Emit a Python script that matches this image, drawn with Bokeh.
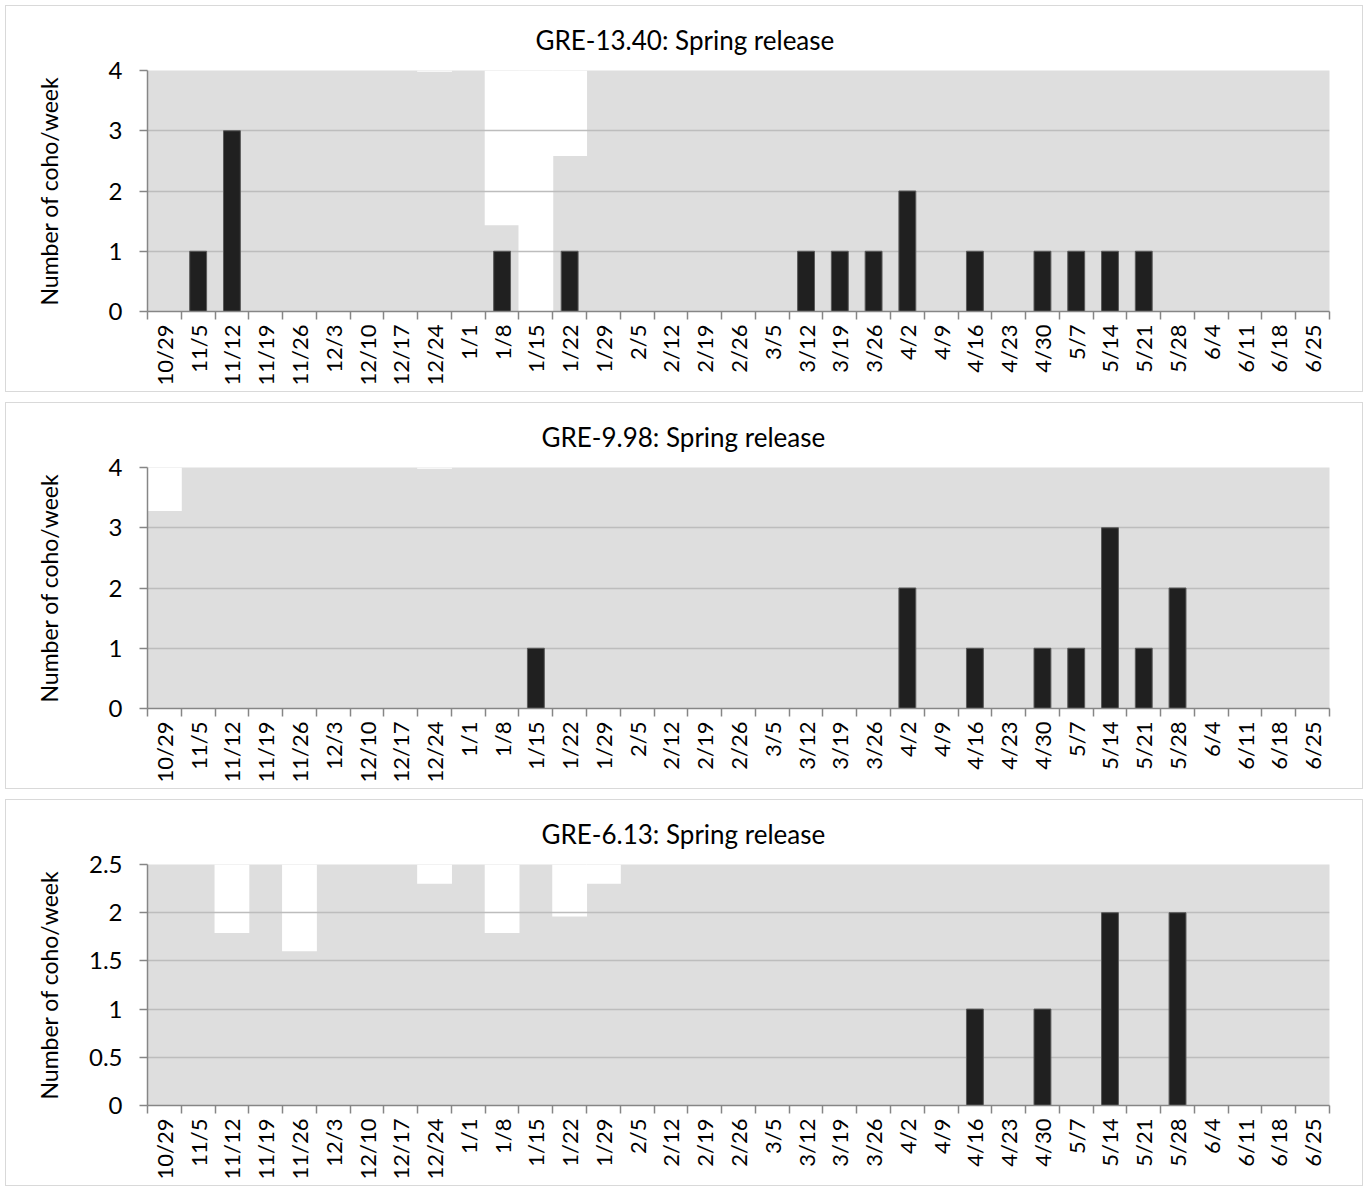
from bokeh.plotting import figure
from bokeh.layouts import column
from bokeh.models import Range1d, FixedTicker, ColumnDataSource
from bokeh.embed import file_html
from bokeh.resources import INLINE

# ---------------- data ----------------
weeks = ["10/29", "11/5", "11/12", "11/19", "11/26", "12/3", "12/10", "12/17",
         "12/24", "1/1", "1/8", "1/15", "1/22", "1/29", "2/5", "2/12", "2/19",
         "2/26", "3/5", "3/12", "3/19", "3/26", "4/2", "4/9", "4/16", "4/23",
         "4/30", "5/7", "5/14", "5/21", "5/28", "6/4", "6/11", "6/18", "6/25"]

titles = ["GRE-13.40: Spring release", "GRE-9.98: Spring release",
          "GRE-6.13: Spring release"]

# number of coho per week
coho_gre1340 = [0, 1, 3, 0, 0, 0, 0, 0, 0, 0, 1, 0, 1, 0, 0, 0, 0, 0, 0, 1,
                1, 1, 2, 0, 1, 0, 1, 1, 1, 1, 0, 0, 0, 0, 0]
coho_gre998 = [0, 0, 0, 0, 0, 0, 0, 0, 0, 0, 0, 1, 0, 0, 0, 0, 0, 0, 0, 0,
               0, 0, 2, 0, 1, 0, 1, 1, 3, 1, 2, 0, 0, 0, 0]
coho_gre613 = [0, 0, 0, 0, 0, 0, 0, 0, 0, 0, 0, 0, 0, 0, 0, 0, 0, 0, 0, 0,
               0, 0, 0, 0, 1, 0, 1, 0, 2, 0, 2, 0, 0, 0, 0]

# level down to which the week is shown as unsampled (white), None = sampled
unsampled_gre1340 = [None, None, None, None, None, None, None, None, 3.98, None,
                     1.43, 0.0, 2.58, None, None, None, None, None, None, None,
                     None, None, None, None, None, None, None, None, None, None,
                     None, None, None, None, None]
unsampled_gre998 = [3.28, None, None, None, None, None, None, None, 3.98, None,
                    None, None, None, None, None, None, None, None, None, None,
                    None, None, None, None, None, None, None, None, None, None,
                    None, None, None, None, None]
unsampled_gre613 = [None, None, 1.79, None, 1.60, None, None, None, 2.30, None,
                    1.79, None, 1.96, 2.30, None, None, None, None, None, None,
                    None, None, None, None, None, None, None, None, None, None,
                    None, None, None, None, None]

y_max = [4, 4, 2.5]
y_ticks = [[0, 1, 2, 3, 4], [0, 1, 2, 3, 4], [0, 0.5, 1, 1.5, 2, 2.5]]

counts = [coho_gre1340, coho_gre998, coho_gre613]
unsampled = [unsampled_gre1340, unsampled_gre998, unsampled_gre613]

# ---------------- styling ----------------
FONT = "Lato"
AXIS_GREY = "#868686"
label_standoff = [43, 43, 23]
title_offset = [388, 394, 394]

n = len(weeks)
centers = [i + 0.5 for i in range(n)]


def make_panel(k):
    ymax = y_max[k]
    p = figure(width=1358, height=387, output_backend="svg",
               toolbar_location=None,
               x_range=Range1d(0, n), y_range=Range1d(0, ymax),
               min_border_left=141, min_border_right=35,
               min_border_top=64, min_border_bottom=82)
    p.styles = {"border": "1px solid #d9d9d9"}
    p.background_fill_color = "#dedede"
    p.border_fill_color = "white"
    p.outline_line_color = None

    # unsampled (white) weeks
    ux = [centers[i] for i in range(n) if unsampled[k][i] is not None]
    ub = [unsampled[k][i] for i in range(n) if unsampled[k][i] is not None]
    usrc = ColumnDataSource(dict(x=ux, bottom=ub, top=[ymax] * len(ux)))
    p.vbar(x="x", bottom="bottom", top="top", width=1.03, source=usrc,
           fill_color="white", line_color=None, level="underlay")

    # coho counts
    cx = [centers[i] for i in range(n) if counts[k][i] > 0]
    cy = [counts[k][i] for i in range(n) if counts[k][i] > 0]
    csrc = ColumnDataSource(dict(x=cx, top=cy))
    p.vbar(x="x", top="top", bottom=0, width=0.5, source=csrc,
           fill_color="#202020", line_color="#5a5a5a", line_width=1)

    # title
    p.title.text = titles[k]
    p.title.text_font = FONT
    p.title.text_font_size = "26px"
    p.title.text_font_style = "normal"
    p.title.text_color = "black"
    p.title.align = "left"
    p.title.offset = title_offset[k]
    p.title.standoff = 30

    # grid
    p.xgrid.visible = False
    p.ygrid.grid_line_color = "#bdbdbd"
    p.ygrid.grid_line_width = 1.5
    p.ygrid.ticker = FixedTicker(ticks=y_ticks[k])

    # x axis
    xa = p.xaxis[0]
    xa.ticker = FixedTicker(ticks=centers, minor_ticks=list(range(n + 1)))
    xa.major_label_overrides = {c: w for c, w in zip(centers, weeks)}
    xa.major_label_orientation = 1.5708
    xa.major_tick_line_color = None
    xa.major_tick_out = 0
    xa.major_tick_in = 0
    xa.minor_tick_line_color = AXIS_GREY
    xa.minor_tick_out = 8
    xa.minor_tick_in = 0
    xa.minor_tick_line_width = 1.5
    xa.axis_line_color = AXIS_GREY
    xa.axis_line_width = 1.5
    xa.major_label_standoff = 5
    xa.major_label_text_font = FONT
    xa.major_label_text_font_size = "22px"
    xa.major_label_text_color = "black"

    # y axis
    ya = p.yaxis[0]
    ya.ticker = FixedTicker(ticks=y_ticks[k])
    ya.major_label_overrides = {t: f"{t:g}" for t in y_ticks[k]}
    ya.axis_line_color = AXIS_GREY
    ya.axis_line_width = 1.5
    ya.major_tick_line_color = AXIS_GREY
    ya.major_tick_line_width = 1.5
    ya.major_tick_out = 8
    ya.major_tick_in = 0
    ya.minor_tick_line_color = None
    ya.major_label_standoff = 17
    ya.major_label_text_font = FONT
    ya.major_label_text_font_size = "24px"
    ya.major_label_text_color = "black"
    ya.axis_label = "Number of coho/week"
    ya.axis_label_text_font = FONT
    ya.axis_label_text_font_size = "23px"
    ya.axis_label_text_font_style = "normal"
    ya.axis_label_text_color = "black"
    ya.axis_label_standoff = label_standoff[k]
    return p


layout = column(*[make_panel(k) for k in range(3)], spacing=10,
                margin=(5, 0, 0, 5))
open("out.html", "w").write(file_html(layout, INLINE))
